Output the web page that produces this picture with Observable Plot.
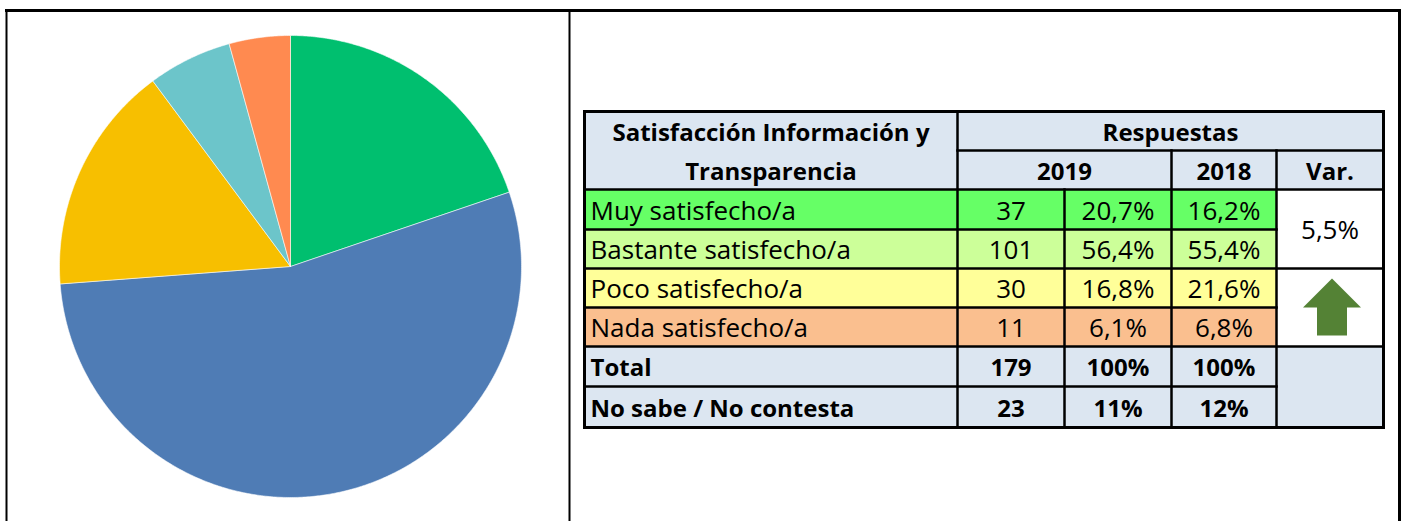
<!DOCTYPE html>
<html>
<head>
<meta charset="utf-8">
<script src="https://cdn.jsdelivr.net/npm/d3@7"></script>
<script src="https://cdn.jsdelivr.net/npm/@observablehq/plot@0.6"></script>
<style>
  html, body { margin: 0; padding: 0; background: #fff; }
  #chart { width: 1405px; height: 521px; }
</style>
</head>
<body>
<div id="chart"></div>
<script>
// ---------- DATA ----------
const pieLabels = ["Muy satisfecho/a", "Bastante satisfecho/a", "Poco satisfecho/a", "Nada satisfecho/a", "Otros"];
const pieValues = [37, 101, 30, 11, 8];
const pieColors = ["#00BF6F", "#4F7CB5", "#F7BF00", "#6CC5CA", "#FF8A50"];

const tableTitle = ["Satisfacción Información y", "Transparencia"];
const groupHeader = "Respuestas";
const yearHeaders = ["2019", "2018", "Var."];
const categorias = ["Muy satisfecho/a", "Bastante satisfecho/a", "Poco satisfecho/a", "Nada satisfecho/a"];
const respuestas2019 = ["37", "101", "30", "11"];
const porcentaje2019 = ["20,7%", "56,4%", "16,8%", "6,1%"];
const porcentaje2018 = ["16,2%", "55,4%", "21,6%", "6,8%"];
const categoriaColors = ["#66FF66", "#CCFF99", "#FFFF99", "#FABF8F"];
const filaTotal = ["Total", "179", "100%", "100%"];
const filaNsNc = ["No sabe / No contesta", "23", "11%", "12%"];
const variacion = "5,5%";

// ---------- LAYOUT ----------
const W = 1405, H = 521;
const pie = {cx: 290, cy: 266, r: 231};
const colX = [584, 957, 1064, 1171, 1276, 1383];
const rowY = [111, 150, 189, 229, 268, 307, 346, 386, 427];
const headerBg = "#DCE6F1";
const font = "'Open Sans', sans-serif";
const fsRegular = 26;
const fsBold = 24;
const dy = 2;

// pie slices
const arcs = d3.pie().sort(null)(pieValues);
const slices = arcs.map((a, i) => {
  const pts = [{x: pie.cx, y: pie.cy}];
  const n = Math.max(4, Math.ceil((a.endAngle - a.startAngle) / (Math.PI / 360)));
  for (let k = 0; k <= n; k++) {
    const t = a.startAngle + (a.endAngle - a.startAngle) * k / n;
    pts.push({x: pie.cx + pie.r * Math.sin(t), y: pie.cy - pie.r * Math.cos(t)});
  }
  pts.push({x: pie.cx, y: pie.cy});
  return {pts, color: pieColors[i]};
});

// table cells
const cells = [];
const cell = (c1, c2, r1, r2, fill) => cells.push({x1: colX[c1], x2: colX[c2], y1: rowY[r1], y2: rowY[r2], fill});
cell(0, 5, 0, 2, headerBg);
categorias.forEach((c, i) => cell(0, 4, 2 + i, 3 + i, categoriaColors[i]));
cell(4, 5, 2, 6, "#FFFFFF");
cell(0, 5, 6, 8, headerBg);

// grid lines
const segs = [];
const h = (y, c1, c2, w = 2.5) => segs.push({x1: colX[c1], x2: colX[c2], y1: rowY[y], y2: rowY[y], w});
const v = (x, r1, r2, w = 2.5) => segs.push({x1: colX[x], x2: colX[x], y1: rowY[r1], y2: rowY[r2], w});
h(0, 0, 5, 3); h(8, 0, 5, 3); v(0, 0, 8, 3); v(5, 0, 8, 3);
v(1, 0, 8); h(1, 1, 5); h(2, 0, 5);
v(2, 2, 8); v(3, 1, 8); v(4, 1, 8);
h(3, 0, 4); h(5, 0, 4); h(7, 0, 4);
h(4, 0, 5); h(6, 0, 5);

const mid = (a, b) => (a + b) / 2;
const texts = [];
const t = (text, x, y, weight = "normal", anchor = "middle") => texts.push({text, x, y: y + dy, weight, anchor});
t(tableTitle[0], mid(colX[0], colX[1]), mid(rowY[0], rowY[1]), "bold");
t(tableTitle[1], mid(colX[0], colX[1]), mid(rowY[1], rowY[2]), "bold");
t(groupHeader, mid(colX[1], colX[5]), mid(rowY[0], rowY[1]), "bold");
t(yearHeaders[0], mid(colX[1], colX[3]), mid(rowY[1], rowY[2]), "bold");
t(yearHeaders[1], mid(colX[3], colX[4]), mid(rowY[1], rowY[2]), "bold");
t(yearHeaders[2], mid(colX[4], colX[5]), mid(rowY[1], rowY[2]), "bold");
categorias.forEach((c, i) => {
  const y = mid(rowY[2 + i], rowY[3 + i]);
  t(c, colX[0] + 6, y, "normal", "start");
  t(respuestas2019[i], mid(colX[1], colX[2]), y);
  t(porcentaje2019[i], mid(colX[2], colX[3]), y);
  t(porcentaje2018[i], mid(colX[3], colX[4]), y);
});
[filaTotal, filaNsNc].forEach((row, j) => {
  const y = mid(rowY[6 + j], rowY[7 + j]);
  t(row[0], colX[0] + 6, y, "bold", "start");
  t(row[1], mid(colX[1], colX[2]), y, "bold");
  t(row[2], mid(colX[2], colX[3]), y, "bold");
  t(row[3], mid(colX[3], colX[4]), y, "bold");
});
t(variacion, mid(colX[4], colX[5]), mid(rowY[2], rowY[4]));

// up arrow in the Var. cell
const ax = mid(colX[4], colX[5]) + 2, ay1 = rowY[4] + 10, ay2 = rowY[6] - 11;
const arrow = [
  {x: ax, y: ay1}, {x: ax + 29, y: ay1 + 29}, {x: ax + 15, y: ay1 + 29}, {x: ax + 15, y: ay2},
  {x: ax - 15, y: ay2}, {x: ax - 15, y: ay1 + 29}, {x: ax - 29, y: ay1 + 29}, {x: ax, y: ay1}
];

const txt = (weight, anchor) => Plot.text(texts.filter(d => d.anchor === anchor && (d.weight === "bold") === (weight === "bold")),
  {x: "x", y: "y", text: "text", fontSize: weight === "bold" ? fsBold : fsRegular, fontWeight: weight, textAnchor: anchor, lineAnchor: "middle", fill: "#000"});

const chart = Plot.plot({
  width: W, height: H,
  margin: 0,
  x: {type: "linear", domain: [0, W], range: [0, W], axis: null},
  y: {type: "linear", domain: [0, H], range: [0, H], axis: null},
  color: {type: "identity"},
  style: {fontFamily: font, background: "#fff"},
  marks: [
    // outer frame
    Plot.ruleY([10], {x1: 5, x2: 1400, stroke: "#000", strokeWidth: 3}),
    Plot.ruleX([6], {y1: 9, y2: H, stroke: "#000", strokeWidth: 2}),
    Plot.ruleX([569], {y1: 9, y2: H, stroke: "#000", strokeWidth: 2}),
    Plot.ruleX([1399], {y1: 9, y2: H, stroke: "#000", strokeWidth: 3}),
    // pie
    ...slices.map(s => Plot.line(s.pts, {x: "x", y: "y", fill: s.color, stroke: "#ffffff", strokeWidth: 0.8, strokeOpacity: 0.7, curve: "linear"})),
    // table
    Plot.rect(cells, {x1: "x1", x2: "x2", y1: "y1", y2: "y2", fill: "fill"}),
    Plot.line(arrow, {x: "x", y: "y", fill: "#548235", stroke: "none"}),
    Plot.link(segs, {x1: "x1", x2: "x2", y1: "y1", y2: "y2", stroke: "#000", strokeWidth: "w", strokeLinecap: "square"}),
    txt("bold", "middle"),
    txt("normal", "middle"),
    txt("bold", "start"),
    txt("normal", "start")
  ]
});
document.getElementById("chart").appendChild(chart);
</script>
</body>
</html>
